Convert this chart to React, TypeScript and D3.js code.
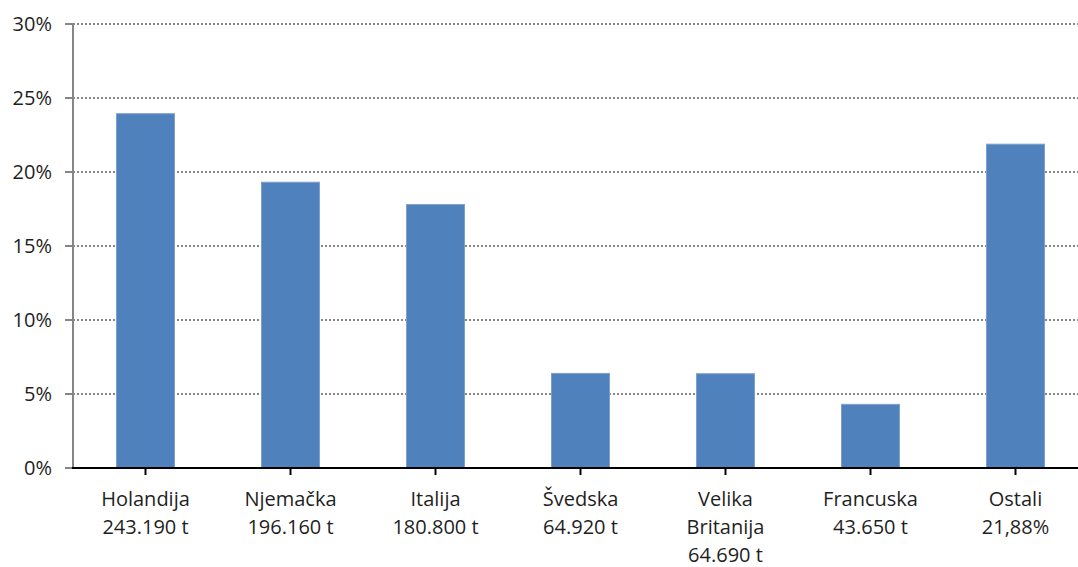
import React from "react";
import * as d3 from "d3";

const categories: string[][] = [
  ["Holandija", "243.190 t"],
  ["Njemačka", "196.160 t"],
  ["Italija", "180.800 t"],
  ["Švedska", "64.920 t"],
  ["Velika", "Britanija", "64.690 t"],
  ["Francuska", "43.650 t"],
  ["Ostali", "21,88%"],
];
const shares: number[] = [23.94, 19.31, 17.8, 6.39, 6.37, 4.3, 21.88];
const yTicks: number[] = [0, 5, 10, 15, 20, 25, 30];

const W = 1078;
const H = 567;
const left = 73;
const top = 24;
const bottom = 468;
const bandRight = 1088;

export default function App() {
  const x = d3
    .scaleBand<number>()
    .domain(d3.range(categories.length))
    .range([left, bandRight])
    .paddingInner(0.6)
    .paddingOuter(0.3);
  const y = d3.scaleLinear().domain([0, 30]).range([bottom, top]);
  const font = "'Open Sans', 'Noto Sans', sans-serif";
  const fs = 20;

  return (
    <svg
      width={W}
      height={H}
      style={{ position: "absolute", left: 0, top: 0, background: "#fff" }}
    >
      {yTicks.map((t) => (
        <g key={t}>
          {t > 0 && (
            <line
              x1={left}
              x2={W}
              y1={y(t)}
              y2={y(t)}
              stroke="#868686"
              strokeWidth={2}
              strokeDasharray="2 2"
            />
          )}
          <line x1={65} x2={left} y1={y(t)} y2={y(t)} stroke="#868686" strokeWidth={2} />
          <text
            x={52}
            y={y(t) + 7}
            textAnchor="end"
            fontFamily={font}
            fontSize={fs}
            fill="#1f1f1f"
          >
            {t}%
          </text>
        </g>
      ))}
      <line x1={left} x2={left} y1={top} y2={bottom} stroke="#868686" strokeWidth={2} />
      {shares.map((v, i) => (
        <rect
          key={i}
          x={x(i)!}
          y={y(v)}
          width={x.bandwidth()}
          height={bottom - y(v)}
          fill="#4F81BD"
          stroke="#7FA0CC"
          strokeWidth={1}
        />
      ))}
      <line x1={left - 1} x2={W} y1={bottom} y2={bottom} stroke="#000" strokeWidth={2} />
      {categories.map((lines, i) => {
        const cx = x(i)! + x.bandwidth() / 2;
        return (
          <g key={i}>
            <line x1={cx} x2={cx} y1={bottom} y2={bottom + 7} stroke="#000" strokeWidth={2} />
            {lines.map((s, j) => (
              <text
                key={j}
                x={cx}
                y={506 + j * 28}
                textAnchor="middle"
                fontFamily={font}
                fontSize={fs}
                fill="#1f1f1f"
              >
                {s}
              </text>
            ))}
          </g>
        );
      })}
    </svg>
  );
}
